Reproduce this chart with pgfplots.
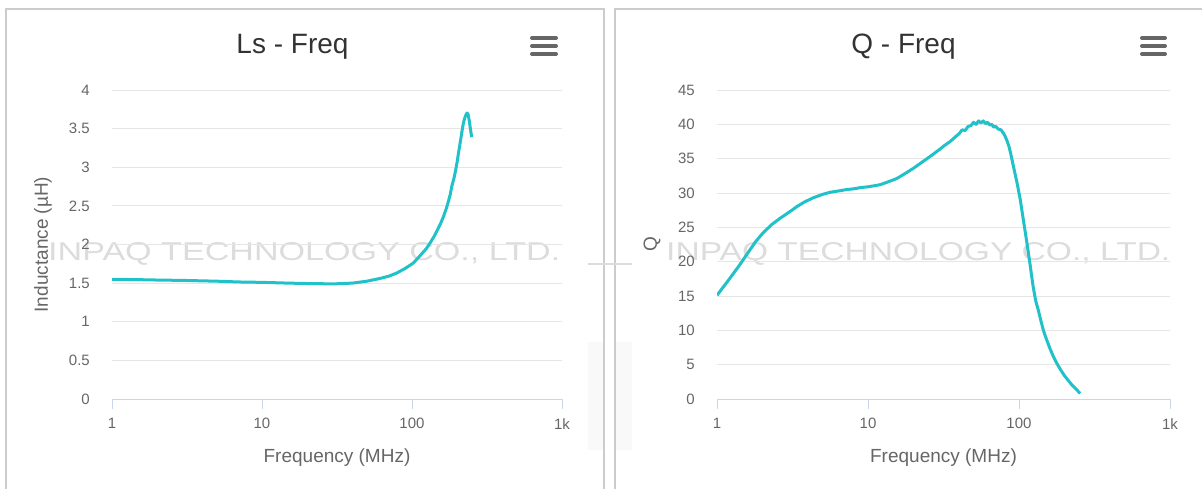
\documentclass[border=0pt]{standalone}
\usepackage{pgfplots}
\pgfplotsset{compat=1.18}
\usepackage{fontspec}
\setmainfont{Liberation Sans}

\definecolor{curve}{RGB}{32,193,200}
\definecolor{gridc}{HTML}{E6E6E6}
\definecolor{axisc}{HTML}{CCD6EB}
\definecolor{tickc}{HTML}{666666}
\definecolor{titlec}{HTML}{333333}
\definecolor{framec}{HTML}{CCCCCC}
\definecolor{wmark}{HTML}{DCDCDC}

\pgfplotstableread{
f L
1 1.55
1.5 1.545
2 1.54
3 1.535
5 1.525
7 1.515
10 1.51
15 1.50
20 1.495
30 1.49
40 1.50
50 1.525
61 1.56
70 1.59
79 1.63
90 1.69
102 1.76
115 1.87
125 1.95
132 2.02
140 2.10
147 2.18
155 2.27
162 2.36
169 2.46
175 2.56
180 2.65
184 2.75
190 2.85
195 2.95
200 3.07
204 3.18
208 3.28
212 3.38
216 3.48
220 3.57
224 3.63
228 3.67
232 3.70
235 3.70
238 3.66
241 3.60
245 3.50
250 3.39
}\lsdata

\pgfplotstableread{
f Q
1 15.1
1.2 17.4
1.4 19.4
1.57 21.0
1.8 22.9
2 24.1
2.3 25.4
2.61 26.3
3 27.2
3.37 28.0
3.8 28.7
4.34 29.3
5 29.8
5.6 30.1
6.4 30.3
7.2 30.5
8 30.6
9 30.8
10 30.9
12 31.2
13.5 31.6
15.5 32.1
17.5 32.8
20 33.6
22.5 34.4
25.7 35.3
28 35.9
30 36.4
32 36.9
35 37.5
38 38.2
40 38.6
42 39.2
44 39.1
46 39.7
48 39.8
50 40.3
52 40.0
54 40.5
56 40.2
58 40.5
60 40.1
62 40.3
64 39.9
66 40.0
68 39.6
70 39.7
73 39.3
76 39.2
80 38.5
83 37.7
86 36.7
88 35.8
92 33.8
97 31.5
102 29.0
107 26.0
112 23.2
118 19.8
124 16.4
129 14.3
134 13.0
140 11.3
145 10.0
152 8.7
160 7.4
168 6.3
178 5.2
188 4.3
200 3.4
212 2.7
225 2.0
240 1.4
254 0.8
}\qdata

\pgfplotsset{
  every axis/.append style={
    scale only axis,
    height=309pt,
    xmin=1, xmax=1000, ymin=0,
    xtick={1,10,100,1000}, xticklabels={1,10,100,1k},
    xminorticks=false,
    separate axis lines,
    axis x line*=bottom, axis y line*=left,
    x axis line style={axisc, line width=1pt, -},
    y axis line style={draw=none},
    ytick style={draw=none},
    xtick style={axisc, line width=1pt},
    tick align=outside,
    major tick length=10pt,
    ymajorgrids,
    major grid style={gridc, line width=1pt},
    every tick label/.append style={font=\fontsize{15}{18}\selectfont, text=tickc},
    xticklabel style={inner sep=0pt, anchor=north, yshift=-9pt},
    yticklabel style={inner sep=0pt, anchor=east, xshift=-12pt},
    xlabel style={font=\fontsize{19}{22}\selectfont, text=tickc, at={(axis description cs:0.5,0)}, anchor=center, yshift=-59pt},
    ylabel style={font=\fontsize{19}{22}\selectfont, text=tickc, anchor=center},
  },
  /pgf/number format/assume math mode=true,
  /pgf/number format/fixed,
}

\newcommand{\menuicon}[2]{%
  \foreach \yy in {38,46,54}
    \draw[tickc, line width=4pt, line cap=round] (#1pt,-\yy pt) -- (#2pt,-\yy pt);
}

\begin{document}
\begin{tikzpicture}
\path[use as bounding box] (0,0) rectangle (1202pt,-489pt);

% panel frames
\draw[framec, line width=2pt] (6pt,-489pt) -- (6pt,-9pt) -- (604pt,-9pt) -- (604pt,-489pt);
\draw[framec, line width=2pt] (615pt,-489pt) -- (615pt,-9pt) -- (1203pt,-9pt);

% watermark
\node[anchor=base west, inner sep=0pt, text=wmark] at (48pt,-260pt)
  {\resizebox{512pt}{18pt}{INPAQ TECHNOLOGY CO., LTD.}};
\node[anchor=base west, inner sep=0pt, text=wmark] at (666pt,-260pt)
  {\resizebox{504pt}{18pt}{INPAQ TECHNOLOGY CO., LTD.}};
\draw[wmark, line width=2pt] (588pt,-264pt) -- (632pt,-264pt);
\fill[black!2.5] (588pt,-342pt) rectangle (603pt,-450pt);
\fill[black!2.5] (616pt,-342pt) rectangle (632pt,-450pt);

\begin{semilogxaxis}[
  at={(112pt,-399pt)}, anchor=south west,
  width=450pt,
  ymax=4, ytick={0,0.5,...,4},
  xlabel={Frequency (MHz)},
  ylabel={Inductance (µH)},
  ylabel style={at={(axis description cs:-0.1533,0.5)}},
]
\addplot[curve, line width=3pt, line join=round] table[x=f, y=L] {\lsdata};
\end{semilogxaxis}

\begin{semilogxaxis}[
  at={(717pt,-399pt)}, anchor=south west,
  width=453pt,
  ymax=45, ytick={0,5,...,45},
  xlabel={Frequency (MHz)},
  ylabel={Q},
  ylabel style={at={(axis description cs:-0.1435,0.5)}},
]
\addplot[curve, line width=3pt, line join=round] table[x=f, y=Q] {\qdata};
\end{semilogxaxis}

% titles
\node[anchor=base, text=titlec, font=\fontsize{28}{32}\selectfont] at (292.5pt,-54pt) {Ls - Freq};
\node[anchor=base, text=titlec, font=\fontsize{28}{32}\selectfont] at (903.5pt,-54pt) {Q - Freq};

\menuicon{532}{556}
\menuicon{1142}{1165}
\end{tikzpicture}
\end{document}
